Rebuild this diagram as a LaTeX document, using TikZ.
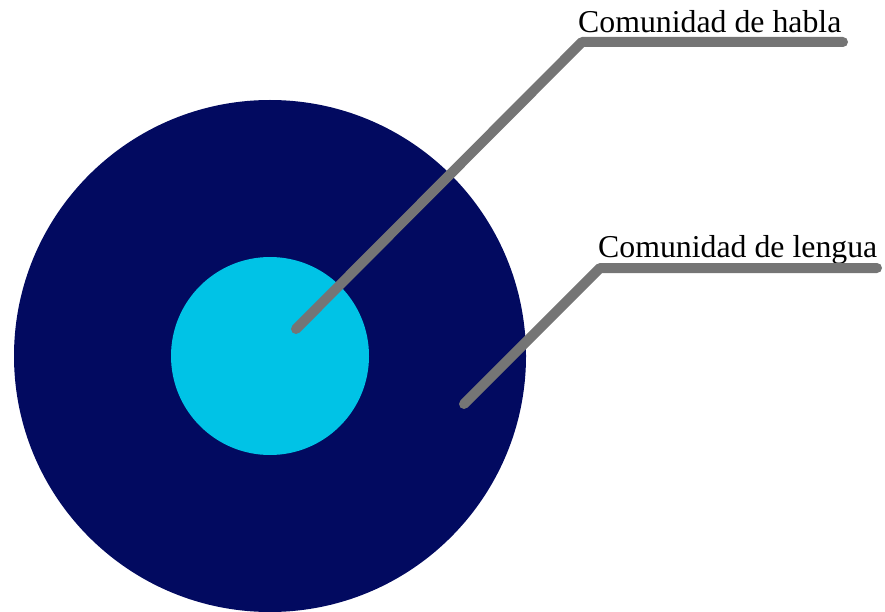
\documentclass[tikz,border=0pt]{standalone}
\usepackage{fontspec}
\setmainfont{Liberation Serif}
\usetikzlibrary{positioning, calc}

\definecolor{navyring}{RGB}{2,10,96}
\definecolor{cyancore}{RGB}{0,195,230}
\definecolor{leadergray}{RGB}{117,117,117}

\begin{document}
\begin{tikzpicture}[x=1pt, y=-1pt, line join=round, line cap=round,
    leader/.style={draw=leadergray, line width=10pt},
    label/.style={inner sep=0pt, anchor=base west, font=\fontsize{31.8}{36}\selectfont}]
    \useasboundingbox (0,0) rectangle (885,612);

    % circulos
    \coordinate (C) at (270,356);
    \fill[navyring] (C) circle (256);
    \fill[cyancore] (C) circle (99);

    % etiquetas
    \node[label] (habla) at (578,33) {Comunidad de habla};
    \node[label] (lengua) at (598,257) {Comunidad de lengua};

    % lineas de referencia
    \coordinate (habla-pt) at (296,329);
    \coordinate (habla-bend) at (582,42);
    \coordinate (habla-end) at (843,42);
    \draw[leader] (habla-pt) -- (habla-bend) -- (habla-end);

    \coordinate (lengua-pt) at (464,404);
    \coordinate (lengua-bend) at (600,268);
    \coordinate (lengua-end) at (877,268);
    \draw[leader] (lengua-pt) -- (lengua-bend) -- (lengua-end);
\end{tikzpicture}
\end{document}
